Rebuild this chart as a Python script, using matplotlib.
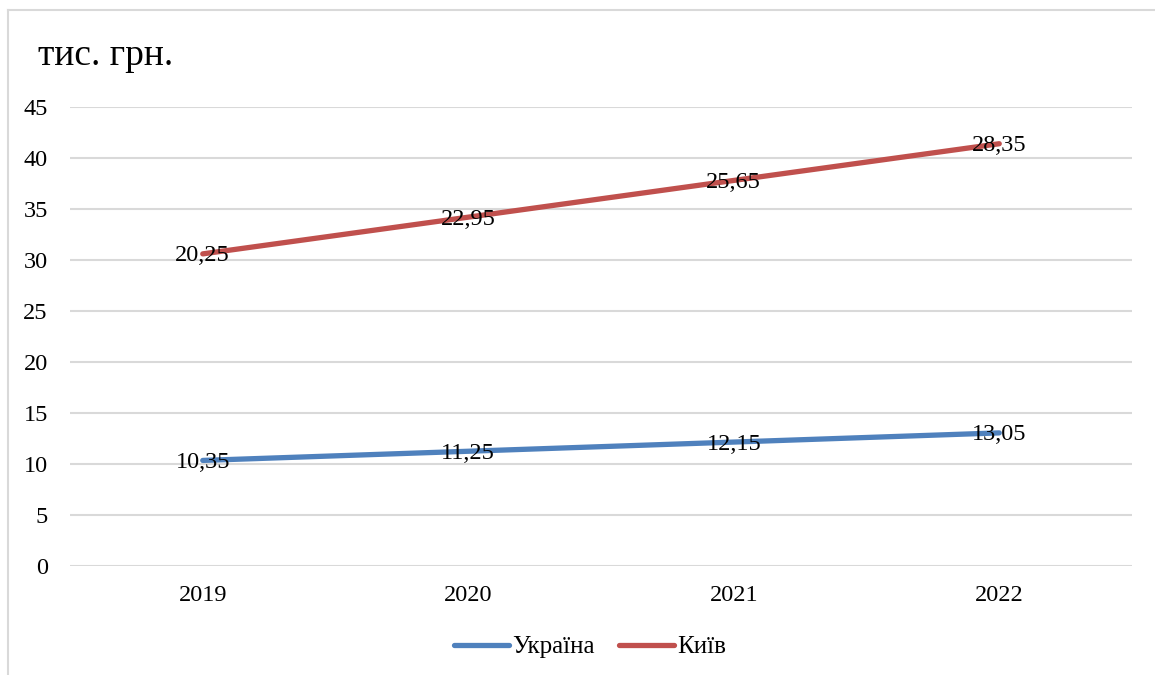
import matplotlib.pyplot as plt
from matplotlib.lines import Line2D
import numpy as np

plt.rcParams['font.family'] = ['Liberation Serif', 'DejaVu Serif']

# Data (stacked line chart: Київ is drawn on top of Україна)
years = ["2019", "2020", "2021", "2022"]
ukraine = [10.35, 11.25, 12.15, 13.05]
kyiv = [20.25, 22.95, 25.65, 28.35]
series_names = ["Україна", "Київ"]
colors = ["#4F81BD", "#C0504D"]

x = np.arange(len(years))
ukr = np.array(ukraine)
kyiv_stacked = ukr + np.array(kyiv)

fig = plt.figure(figsize=(11.55, 6.75), dpi=100)
ax = fig.add_axes([70 / 1155, 1 - 566 / 675, (1132 - 70) / 1155, (566 - 107) / 675])

ax.plot(x, ukr, color=colors[0], lw=3.8, solid_capstyle='round', label=series_names[0])
ax.plot(x, kyiv_stacked, color=colors[1], lw=3.8, solid_capstyle='round', label=series_names[1])

# Data labels show the raw values
for xi, yi, v in zip(x, ukr, ukraine):
    ax.text(xi, yi - 0.2, f"{v:.2f}".replace(".", ","), ha='center', va='center', fontsize=17.5)
for xi, yi, v in zip(x, kyiv_stacked, kyiv):
    ax.text(xi, yi - 0.2, f"{v:.2f}".replace(".", ","), ha='center', va='center', fontsize=17.5)

ax.set_xlim(-0.5, 3.5)
ax.set_ylim(0, 45)
ax.set_yticks(np.arange(0, 46, 5))
ax.set_xticks(x)
ax.set_xticklabels(years)
ax.tick_params(axis='both', length=0, labelsize=17.5)
ax.tick_params(axis='y', pad=16)
ax.tick_params(axis='x', pad=14)
ax.grid(axis='y', color='#d9d9d9', lw=1.5)
ax.set_axisbelow(True)
for s in ax.spines.values():
    s.set_visible(False)

fig.text(38 / 1155, 1 - 56 / 675, "тис. грн.", fontsize=27, va='center', ha='left')

fig.legend(loc='center', bbox_to_anchor=(590 / 1155, 1 - 647 / 675), ncol=2, frameon=False,
           fontsize=18, handlelength=2.2, handletextpad=0.1, columnspacing=1.0)

# Chart area border (only top and left visible in the reference)
fig.add_artist(Line2D([8 / 1155, 1.0], [1 - 10 / 675, 1 - 10 / 675], color='#d9d9d9', lw=1.5))
fig.add_artist(Line2D([8 / 1155, 8 / 1155], [0, 1 - 10 / 675], color='#d9d9d9', lw=1.5))

plt.savefig("out.png", dpi=100)
